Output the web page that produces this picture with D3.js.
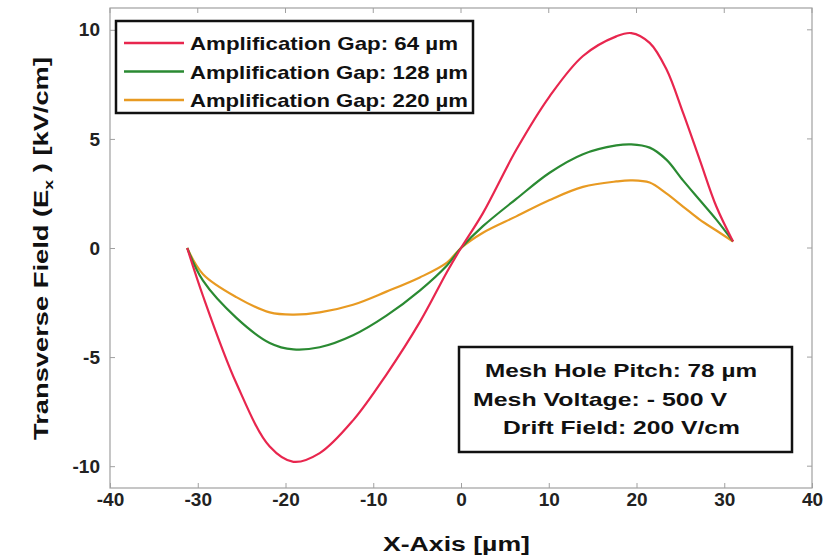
<!DOCTYPE html>
<html>
<head>
<meta charset="utf-8">
<script src="https://cdn.jsdelivr.net/npm/d3@7"></script>
<style>
  body { margin: 0; background: #fff; }
  svg { display: block; font-family: "Liberation Sans", Arial, sans-serif; }
</style>
</head>
<body>
<svg width="840" height="559"></svg>
<script>
// x positions (um)
var xs = [-31.2, -29.4, -25.6, -21.8, -19.1, -16.1, -12.3, -8.5, -4.7, -1.6, 0,
  2.5, 6.3, 10.1, 13.9, 17.7, 19.4, 21.5, 23.4, 25.3, 27.2, 29.1, 31.0];
var gap64 = [0, -2.2, -6.2, -9.1, -9.8, -9.4, -7.9, -5.8, -3.4, -1.1, 0,
  1.6, 4.5, 6.95, 8.8, 9.7, 9.85, 9.4, 8.2, 6.2, 4.05, 1.9, 0.3];
var gap128 = [0, -1.5, -3.2, -4.35, -4.65, -4.55, -4.0, -3.1, -1.95, -0.8, 0,
  1.0, 2.25, 3.45, 4.3, 4.7, 4.75, 4.6, 4.05, 3.1, 2.2, 1.3, 0.3];
var gap220 = [0, -1.2, -2.25, -2.95, -3.05, -2.95, -2.6, -2.0, -1.35, -0.67, 0,
  0.7, 1.45, 2.2, 2.8, 3.05, 3.1, 3.0, 2.5, 1.9, 1.3, 0.8, 0.3];

var seriesNames = ["Amplification Gap: 64 \u00b5m", "Amplification Gap: 128 \u00b5m", "Amplification Gap: 220 \u00b5m"];
var seriesColors = ["#e8264e", "#2a8a32", "#e89a22"];
var xTicks = [-40, -30, -20, -10, 0, 10, 20, 30, 40];
var yTicks = [-10, -5, 0, 5, 10];
var infoLines = ["Mesh Hole Pitch: 78 \u00b5m", "Mesh Voltage: - 500 V", "Drift Field: 200 V/cm"];

var svg = d3.select("svg");
var mLeft = 110, mRight = 812, mTop = 8, mBottom = 488;

var x = d3.scaleLinear().domain([-40, 40]).range([mLeft, mRight]);
var y = d3.scaleLinear().domain([-11, 11]).range([mBottom, mTop]);

// frame
svg.append("rect")
  .attr("x", mLeft).attr("y", mTop)
  .attr("width", mRight - mLeft).attr("height", mBottom - mTop)
  .attr("fill", "none").attr("stroke", "#a0a0a0").attr("stroke-width", 1.2);

// axes
var fmt = function (d) { return String(d); };
var xAxis = svg.append("g")
  .attr("transform", "translate(0," + mBottom + ")")
  .call(d3.axisBottom(x).tickValues(xTicks).tickFormat(fmt).tickSize(-5).tickPadding(5));
var yAxis = svg.append("g")
  .attr("transform", "translate(" + mLeft + ",0)")
  .call(d3.axisLeft(y).tickValues(yTicks).tickFormat(fmt).tickSize(-5).tickPadding(10));

[xAxis, yAxis].forEach(function (a) {
  a.select(".domain").remove();
  a.selectAll("line").attr("stroke", "#a0a0a0");
  a.selectAll("text")
    .attr("font-size", 19).attr("font-weight", "bold")
    .attr("fill", "#222")
    .attr("font-family", "'Liberation Sans Narrow', 'Liberation Sans', Arial, sans-serif");
});
// top/right ticks
svg.append("g").selectAll("line").data(xTicks).enter().append("line")
  .attr("x1", function (d) { return x(d); }).attr("x2", function (d) { return x(d); })
  .attr("y1", mTop).attr("y2", mTop + 5).attr("stroke", "#a0a0a0");
svg.append("g").selectAll("line").data(yTicks).enter().append("line")
  .attr("y1", function (d) { return y(d); }).attr("y2", function (d) { return y(d); })
  .attr("x1", mRight).attr("x2", mRight - 5).attr("stroke", "#a0a0a0");

// curves
var line = d3.line()
  .x(function (d) { return x(d[0]); })
  .y(function (d) { return y(d[1]); })
  .curve(d3.curveCatmullRom.alpha(0.5));

[gap220, gap128, gap64].forEach(function (vals, i) {
  var idx = 2 - i;
  svg.append("path")
    .datum(xs.map(function (v, j) { return [v, vals[j]]; }))
    .attr("d", line)
    .attr("fill", "none")
    .attr("stroke", seriesColors[idx])
    .attr("stroke-width", 2.2);
});

// legend
var legendW = [268, 278, 278];
var lg = svg.append("g");
lg.append("rect")
  .attr("x", 116).attr("y", 21).attr("width", 357).attr("height", 92)
  .attr("fill", "#fff").attr("stroke", "#111").attr("stroke-width", 2.5);
seriesNames.forEach(function (name, i) {
  var ly = 43 + i * 28.5;
  lg.append("line")
    .attr("x1", 124).attr("x2", 184).attr("y1", ly).attr("y2", ly)
    .attr("stroke", seriesColors[i]).attr("stroke-width", 2.5);
  lg.append("text")
    .attr("x", 190).attr("y", ly + 7)
    .attr("font-size", 19).attr("font-weight", "bold").attr("fill", "#111")
    .attr("textLength", legendW[i]).attr("lengthAdjust", "spacingAndGlyphs")
    .text(name);
});

// info box
var ib = svg.append("g");
ib.append("rect")
  .attr("x", 459).attr("y", 347).attr("width", 333).attr("height", 105)
  .attr("fill", "#fff").attr("stroke", "#111").attr("stroke-width", 2.5);
var infoX = [485, 473, 503];
var infoW = [272, 254, 237];
infoLines.forEach(function (t, i) {
  ib.append("text")
    .attr("x", infoX[i]).attr("y", 377 + i * 28.5)
    .attr("font-size", 18.5).attr("font-weight", "bold").attr("fill", "#111")
    .attr("textLength", infoW[i]).attr("lengthAdjust", "spacingAndGlyphs")
    .text(t);
});

// axis labels
svg.append("text")
  .attr("x", 383).attr("y", 551)
  .attr("font-size", 20).attr("font-weight", "bold").attr("fill", "#111")
  .attr("textLength", 147).attr("lengthAdjust", "spacingAndGlyphs")
  .text("X-Axis [\u00b5m]");

var yl = svg.append("text")
  .attr("transform", "translate(48,440) rotate(-90)")
  .attr("font-size", 20).attr("font-weight", "bold").attr("fill", "#111")
  .attr("textLength", 383).attr("lengthAdjust", "spacingAndGlyphs");
yl.append("tspan").text("Transverse Field (E");
yl.append("tspan").attr("font-size", 13).attr("dy", 5).text("x");
yl.append("tspan").attr("dy", -5).text(" ) [kV/cm]");
</script>
</body>
</html>
